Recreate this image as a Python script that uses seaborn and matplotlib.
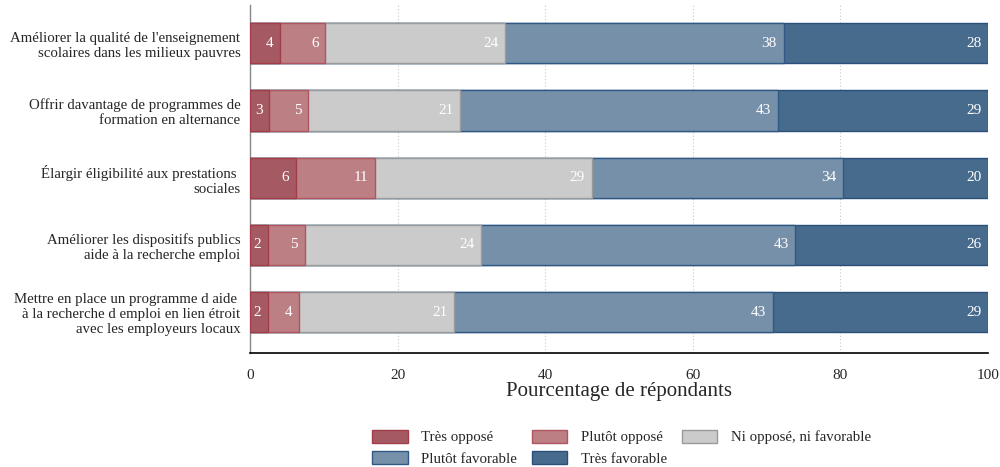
import numpy as np
import pandas as pd
import seaborn as sns
import matplotlib.pyplot as plt
from matplotlib.patches import Patch

questions = [
    "Améliorer la qualité de l'enseignement\nscolaires dans les milieux pauvres",
    "Offrir davantage de programmes de\nformation en alternance",
    "Élargir éligibilité aux prestations \nsociales",
    "Améliorer les dispositifs publics\naide à la recherche emploi",
    "Mettre en place un programme d aide \nà la recherche d emploi en lien étroit\navec les employeurs locaux",
]
categories = ["Très opposé", "Plutôt opposé", "Ni opposé, ni favorable",
              "Plutôt favorable", "Très favorable"]
tres_oppose = [4.1, 2.6, 6.2, 2.4, 2.4]
plutot_oppose = [6.1, 5.3, 10.7, 5.0, 4.2]
ni_ni = [24.4, 20.6, 29.4, 23.9, 21.1]
plutot_favorable = [37.7, 43.0, 34.1, 42.6, 43.1]
tres_favorable = [27.7, 28.5, 19.6, 26.1, 29.2]
labels_vals = [[4, 6, 24, 38, 28], [3, 5, 21, 43, 29], [6, 11, 29, 34, 20],
               [2, 5, 24, 43, 26], [2, 4, 21, 43, 29]]

fills = ["#a55a63", "#bc8084", "#cbcbcb", "#7690a9", "#476b8d"]
edges = ["#a23c48", "#b05560", "#9a9a9a", "#2f5885", "#2a4f7a"]

sns.set_style("white")
plt.rcParams["font.family"] = ["Liberation Serif", "DejaVu Serif"]

data = np.array([tres_oppose, plutot_oppose, ni_ni, plutot_favorable, tres_favorable])
cum = np.cumsum(data, axis=0)

fig = plt.figure(figsize=(10, 4.67), dpi=100)
ax = fig.add_axes([0.25, 0.245, 0.738, 0.744])

for k in range(4, -1, -1):
    df = pd.DataFrame({"q": questions, "v": cum[k]})
    sns.barplot(data=df, x="v", y="q", orient="h", color=fills[k], saturation=1,
                width=0.6, edgecolor=edges[k], linewidth=1.0, ax=ax, zorder=3)

for i in range(len(questions)):
    for k in range(5):
        ax.text(cum[k, i] - 0.9, i, str(labels_vals[i][k]), ha="right", va="center",
                color="white", fontsize=11, zorder=5)

ax.set_xlim(0, 100)
ax.set_ylim(4.6, -0.565)
ax.set_xticks([0, 20, 40, 60, 80, 100])
ax.set_xticklabels(["0", "20", "40", "60", "80", "100"], fontsize=11)
ax.set_yticks(range(len(questions)))
ax.set_yticklabels(questions, fontsize=10.7, linespacing=1.2)
ax.tick_params(axis="both", length=0)
ax.tick_params(axis="x", pad=12)
ax.tick_params(axis="y", pad=7)
ax.set_ylabel("")
ax.set_xlabel("Pourcentage de répondants", fontsize=15, labelpad=0)
ax.grid(axis="x", linestyle=(0, (1, 2)), color="#c8c8c8", linewidth=0.8, zorder=0)
ax.set_axisbelow(True)
for s in ["top", "right"]:
    ax.spines[s].set_visible(False)
ax.spines["left"].set_color("#888888")
ax.spines["left"].set_linewidth(1.0)
ax.spines["bottom"].set_color("black")
ax.spines["bottom"].set_linewidth(1.2)

handles = [Patch(facecolor=fills[k], edgecolor=edges[k], label=categories[k]) for k in range(5)]
order = [0, 3, 1, 4, 2]
fig.legend([handles[i] for i in order], [categories[i] for i in order],
           loc="upper left", bbox_to_anchor=(0.366, 0.093), ncol=3, frameon=False,
           fontsize=10.7, handlelength=2.4, handleheight=1.0, columnspacing=1.0,
           labelspacing=0.45, handletextpad=0.9, borderaxespad=0)

fig.savefig("out.png", dpi=100)
